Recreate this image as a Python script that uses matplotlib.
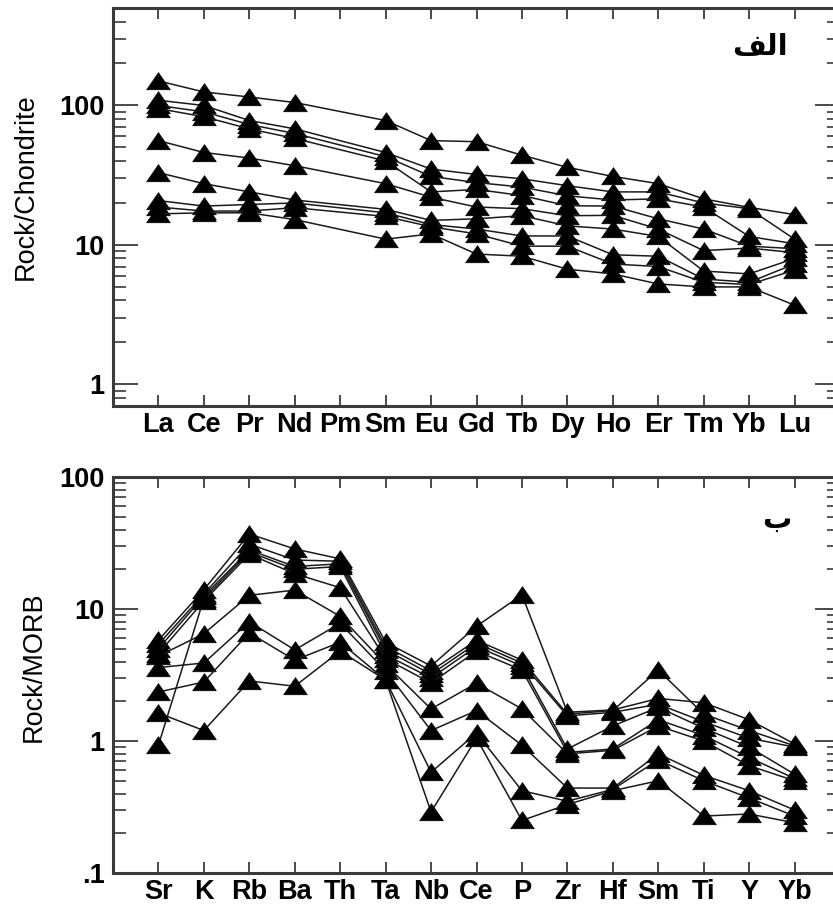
import matplotlib
matplotlib.use("Agg")
import matplotlib.pyplot as plt
from matplotlib.ticker import FixedLocator, FixedFormatter, NullFormatter

# ---------------- data ----------------
ree_elements = ['La', 'Ce', 'Pr', 'Nd', 'Pm', 'Sm', 'Eu', 'Gd', 'Tb', 'Dy', 'Ho', 'Er', 'Tm', 'Yb', 'Lu']
ree_s1 = [150, 125, 115, 105, None, 78, 56, 55, 44, 36, 31, 27.5, 21.4, 18.6, 16.5]
ree_s2 = [109, 100, 78, 68, None, 46, 35, 32, 29.8, 26.6, 24, 24, 20, 18.2, 11]
ree_s3 = [100, 90, 73, 63, None, 43, 31, 28, 26, 22.5, 21, 21.4, 18.7, 11.5, 10.2]
ree_s4 = [95, 83, 68, 58, None, 40, 24, 25, 22.6, 19.1, 19, 15.4, 13, 9.8, 9.4]
ree_s5 = [56, 46, 42, 37, None, 27.5, 22, 18.7, 18.2, 16.2, 16.3, 13, 9.1, 9.5, 8.8]
ree_s6 = [33, 27.5, 24, 21, None, 18, 15, 15.4, 16.2, 13.7, 13, 11.5, 6.5, 6.2, 8.0]
ree_s7 = [20.8, 19, 19.5, 20, None, 17, 14, 13, 11.6, 11.6, 8.5, 8.3, 5.7, 5.4, 7.3]
ree_s8 = [18.7, 17.5, 17.5, 18.5, None, 16, 13.5, 12, 9.8, 9.8, 7.3, 7.0, 5.4, 5.2, 6.6]
ree_s9 = [16.7, 17, 17, 15.2, None, 11, 12, 8.6, 8.3, 6.7, 6.2, 5.25, 5.0, 5.0, 3.7]
ree_series = [ree_s1, ree_s2, ree_s3, ree_s4, ree_s5, ree_s6, ree_s7, ree_s8, ree_s9]

spider_elements = ['Sr', 'K', 'Rb', 'Ba', 'Th', 'Ta', 'Nb', 'Ce', 'P', 'Zr', 'Hf', 'Sm', 'Ti', 'Y', 'Yb']
sp_s1 = [5.8, 14, 37, 28.5, 24, 5.6, 3.7, 7.4, 12.8, 1.65, 1.72, 2.1, 1.95, 1.45, 0.95]
sp_s2 = [5.4, 13, 31, 23.5, 23, 5.2, 3.4, 5.8, 4.1, 1.6, 1.7, 3.45, 1.6, 1.2, 0.92]
sp_s3 = [5.0, 12.5, 28, 21, 22, 4.9, 3.2, 5.5, 3.9, 1.55, 1.65, 1.9, 1.4, 1.05, 0.9]
sp_s4 = [0.93, 12, 27, 20, 21, 4.5, 3.0, 5.2, 3.7, 0.87, 1.3, 1.8, 1.25, 0.9, 0.56]
sp_s5 = [4.6, 11.5, 26, 18.5, 14.5, 4.2, 2.75, 4.8, 3.45, 0.82, 0.87, 1.45, 1.1, 0.75, 0.52]
sp_s6 = [4.4, 6.5, 12.7, 13.9, 8.8, 3.8, 1.75, 2.74, 1.75, 0.8, 0.85, 1.3, 1.0, 0.65, 0.5]
sp_s7 = [3.6, 3.9, 8.0, 4.9, 7.8, 3.4, 1.2, 1.7, 0.93, 0.44, 0.44, 0.8, 0.55, 0.42, 0.3]
sp_s8 = [2.35, 2.8, 6.6, 4.1, 5.6, 2.9, 0.58, 1.15, 0.42, 0.35, 0.43, 0.72, 0.5, 0.37, 0.27]
sp_s9 = [1.63, 1.2, 2.85, 2.6, 4.8, 2.9, 0.29, 1.05, 0.25, 0.33, 0.42, 0.5, 0.27, 0.28, 0.24]
spider_series = [sp_s1, sp_s2, sp_s3, sp_s4, sp_s5, sp_s6, sp_s7, sp_s8, sp_s9]

top_yticks = [1, 10, 100]
top_yticklabels = ['1', '10', '100']
bottom_yticks = [0.1, 1, 10, 100]
bottom_yticklabels = ['.1', '1', '10', '100']

top_ylabel = 'Rock/Chondrite'
bottom_ylabel = 'Rock/MORB'
# Arabic panel labels "الف" and "ب" (presentation forms in visual order, since
# matplotlib does not shape Arabic text)
top_panel_tag = '\uFED2\uFEDF\uFE8D'
bottom_panel_tag = '\uFE8F'

# ---------------- style ----------------
plt.rcParams['font.family'] = ['Liberation Sans', 'DejaVu Sans']
W, H = 833, 916
fig = plt.figure(figsize=(W / 100, H / 100), dpi=100)
fig.patch.set_facecolor('white')

tri = [(-1.0, -0.7), (1.0, -0.7), (0.0, 0.75), (-1.0, -0.7)]
spine_col = '#3a3a3a'


def px_axes(left, right, top, bottom):
    return [left / W, 1 - bottom / H, (right - left) / W, (bottom - top) / H]


def style_axes(ax, elements, yticks, yticklabels, ylim):
    ax.set_yscale('log')
    ax.set_ylim(*ylim)
    ax.set_xlim(-1, len(elements))
    ax.set_xticks(range(len(elements)))
    ax.set_xticklabels(elements, fontsize=19.5, fontweight='bold')
    ax.yaxis.set_major_locator(FixedLocator(yticks))
    ax.yaxis.set_major_formatter(FixedFormatter(yticklabels))
    ax.yaxis.set_minor_locator(matplotlib.ticker.LogLocator(base=10, subs=range(2, 10)))
    ax.yaxis.set_minor_formatter(NullFormatter())
    for lab in ax.get_yticklabels():
        lab.set_fontsize(19.5)
        lab.set_fontweight('bold')
    ax.tick_params(axis='x', which='major', direction='in', length=8, width=1.3,
                   top=True, bottom=True, color=spine_col, pad=4)
    ax.tick_params(axis='y', which='major', direction='in', length=18, width=1.3,
                   left=True, right=True, color=spine_col, pad=6)
    ax.tick_params(axis='y', which='minor', direction='in', length=9.5, width=1.2,
                   left=True, right=True, color=spine_col)
    for sp in ax.spines.values():
        sp.set_linewidth(2.2)
        sp.set_color(spine_col)


def draw_series(ax, series):
    for s in series:
        xs = [i for i, v in enumerate(s) if v is not None]
        ys = [v for v in s if v is not None]
        ax.plot(xs, ys, color='#1a1a1a', lw=1.1, marker=tri, markersize=17,
                markerfacecolor='black', markeredgecolor='black', markeredgewidth=0.5,
                zorder=3, clip_on=False)


# top panel
ax1 = fig.add_axes(px_axes(113, 840, 8, 406))
draw_series(ax1, ree_series)
style_axes(ax1, ree_elements, top_yticks, top_yticklabels, (0.7, 500))
ax1.text(760 / W, 1 - 47 / H, top_panel_tag, transform=fig.transFigure,
         fontsize=21, fontweight='bold', family=['DejaVu Sans'],
         ha='center', va='center')

# bottom panel
ax2 = fig.add_axes(px_axes(113, 840, 477, 873))
draw_series(ax2, spider_series)
style_axes(ax2, spider_elements, bottom_yticks, bottom_yticklabels, (0.1, 100))
ax2.text(777 / W, 1 - 520 / H, bottom_panel_tag, transform=fig.transFigure,
         fontsize=21, fontweight='bold', family=['DejaVu Sans'],
         ha='center', va='center')

fig.text(26 / W, 1 - 187 / H, top_ylabel, rotation=90, fontsize=19.5,
         ha='center', va='center')
fig.text(34 / W, 1 - 667 / H, bottom_ylabel, rotation=90, fontsize=19.5,
         ha='center', va='center')

fig.savefig('out.png', dpi=100, facecolor='white')
